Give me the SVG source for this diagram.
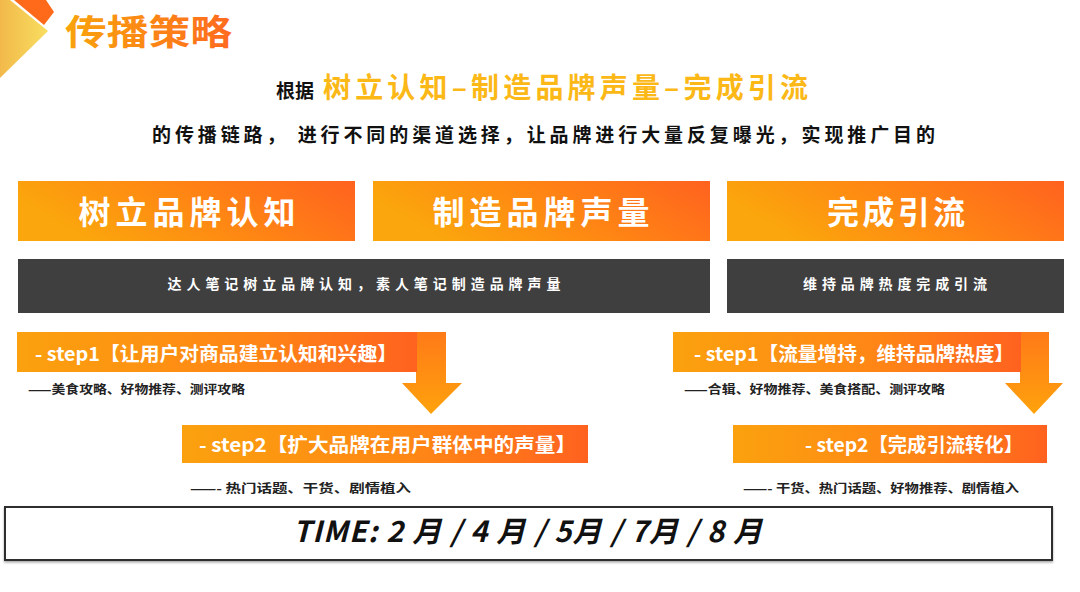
<svg xmlns="http://www.w3.org/2000/svg" width="1080" height="592" viewBox="0 0 1080 592">
<defs>
<linearGradient id="gHead" x1="0" y1="0.3" x2="1" y2="0">
<stop offset="0" stop-color="#FBA60C"/>
<stop offset="0.5" stop-color="#FF8414"/>
<stop offset="1" stop-color="#FF621F"/>
</linearGradient>
<linearGradient id="gBar" x1="0" y1="0" x2="1" y2="0">
<stop offset="0" stop-color="#FBA10E"/>
<stop offset="0.6" stop-color="#FF8516"/>
<stop offset="1" stop-color="#FF621F"/>
</linearGradient>
<linearGradient id="gArrow" x1="0" y1="0" x2="0" y2="1">
<stop offset="0" stop-color="#FF7A18"/>
<stop offset="1" stop-color="#FFA20C"/>
</linearGradient>
<linearGradient id="gTitle" x1="0" y1="0" x2="1" y2="0">
<stop offset="0" stop-color="#F9A40C"/>
<stop offset="1" stop-color="#FF6A1E"/>
</linearGradient>
<linearGradient id="gYellow" x1="0" y1="0" x2="1" y2="0">
<stop offset="0" stop-color="#F2B94A"/>
<stop offset="1" stop-color="#F8DE60"/>
</linearGradient>
<filter id="shadow" x="-5%" y="-20%" width="110%" height="150%">
<feDropShadow dx="0" dy="1.5" stdDeviation="1" flood-color="#000" flood-opacity="0.35"/>
</filter>
</defs>
<style>
text{font-family:"Noto Sans CJK SC","Noto Sans",sans-serif;font-weight:700;}
.hdr{fill:#FFFFFF;font-size:32px;text-anchor:middle;}
.dark{fill:#3F3F3F;}
.dtx{fill:#FFFFFF;font-size:14px;text-anchor:middle;}
.step{fill:#FFFFFF;font-size:19px;}
.sub{fill:#222222;font-size:12px;}
.blk{fill:#111111;}
</style>
<rect width="1080" height="592" fill="#FFFFFF"/>

<g id="corner">
<polygon points="14,0 46,0 54,12 44,25" fill="#FF6A1A"/>
<polygon points="0,0 10,0 48,31 0,78" fill="url(#gYellow)"/>
</g>
<g id="title">
<text x="65" y="45" font-size="35" fill="url(#gTitle)" textLength="167" lengthAdjust="spacingAndGlyphs">传播策略</text>
</g>

<g id="intro">
<text x="276" y="98" font-size="19" class="blk">根据</text>
<text x="323" y="98" font-size="28" fill="#FBB816" textLength="485" lengthAdjust="spacing">树立认知–制造品牌声量–完成引流</text>
<text x="152" y="142" font-size="19" class="blk" textLength="783" lengthAdjust="spacing">的传播链路， 进行不同的渠道选择，让品牌进行大量反复曝光，实现推广目的</text>
</g>

<g id="stage1">
<rect x="18" y="181" width="337" height="60" fill="url(#gHead)"/>
<text x="187" y="224" class="hdr" textLength="217" lengthAdjust="spacing">树立品牌认知</text>
</g>
<g id="stage2">
<rect x="373" y="181" width="337" height="60" fill="url(#gHead)"/>
<text x="541" y="224" class="hdr" textLength="217" lengthAdjust="spacing">制造品牌声量</text>
</g>
<g id="stage3">
<rect x="727" y="181" width="337" height="60" fill="url(#gHead)"/>
<text x="896" y="224" class="hdr" textLength="138" lengthAdjust="spacing">完成引流</text>
</g>

<g id="desc1">
<rect x="18" y="259" width="692" height="54" class="dark"/>
<text x="364" y="289" class="dtx" textLength="393" lengthAdjust="spacing">达人笔记树立品牌认知，素人笔记制造品牌声量</text>
</g>
<g id="desc2">
<rect x="727" y="259" width="337" height="54" class="dark"/>
<text x="895" y="289" class="dtx" textLength="184" lengthAdjust="spacing">维持品牌热度完成引流</text>
</g>

<g id="connectors">
<polygon points="416,332 446,332 446,383 462,383 431,414 402,383 416,383" fill="url(#gArrow)"/>
<polygon points="1020,332 1049,332 1049,383 1063,383 1034,414 1005,383 1020,383" fill="url(#gArrow)"/>
</g>

<g id="left-step1">
<rect x="17" y="332" width="400" height="40" fill="url(#gBar)"/>
<text x="35" y="361" class="step" textLength="362" lengthAdjust="spacingAndGlyphs">- step1【让用户对商品建立认知和兴趣】</text>
<text x="28" y="394" class="sub" textLength="217" lengthAdjust="spacingAndGlyphs">——美食攻略、好物推荐、测评攻略</text>
</g>
<g id="left-step2">
<rect x="182" y="425" width="406" height="38" fill="url(#gBar)"/>
<text x="199" y="452" class="step" textLength="377" lengthAdjust="spacingAndGlyphs">- step2【扩大品牌在用户群体中的声量】</text>
<text x="190" y="493" class="sub" textLength="221" lengthAdjust="spacingAndGlyphs">——- 热门话题、干货、剧情植入</text>
</g>
<g id="right-step1">
<rect x="673" y="332" width="348" height="40" fill="url(#gBar)"/>
<text x="694" y="361" class="step" textLength="320" lengthAdjust="spacingAndGlyphs">- step1【流量增持，维持品牌热度】</text>
<text x="684" y="394" class="sub" textLength="261" lengthAdjust="spacingAndGlyphs">——合辑、好物推荐、美食搭配、测评攻略</text>
</g>
<g id="right-step2">
<rect x="733" y="425" width="314" height="38" fill="url(#gBar)"/>
<text x="805" y="452" class="step" textLength="218" lengthAdjust="spacingAndGlyphs">- step2【完成引流转化】</text>
<text x="743" y="493" class="sub" textLength="276" lengthAdjust="spacingAndGlyphs">——- 干货、热门话题、好物推荐、剧情植入</text>
</g>

<g id="time">
<rect x="5" y="507" width="1047" height="53" fill="#FFFFFF" stroke="#2E2E2E" stroke-width="2" filter="url(#shadow)"/>
<text x="293" y="542" font-size="29" font-style="italic" font-weight="700" class="blk" textLength="469" lengthAdjust="spacing">TIME: 2 月 / 4 月 / 5月 / 7月 / 8 月</text>
</g>
</svg>
